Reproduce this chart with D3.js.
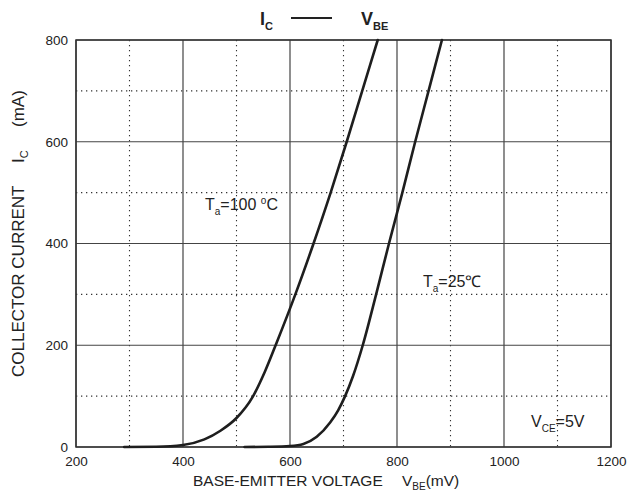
<!DOCTYPE html>
<html>
<head>
<meta charset="utf-8">
<script src="https://cdn.jsdelivr.net/npm/d3@7"></script>
<style>
  body { margin: 0; background: #fff; }
  text { font-family: "Liberation Sans", Arial, sans-serif; fill: #222; }
</style>
</head>
<body>
<div id="chart"></div>
<script>
// values
var xTicks = [200, 400, 600, 800, 1000, 1200];
var yTicks = [0, 200, 400, 600, 800];
var xMinor = [300, 500, 700, 900, 1100];
var yMinor = [100, 300, 500, 700];

var vbe100 = [290, 350, 400, 440, 470, 500, 530, 553, 575, 610, 644, 676, 706, 735, 764];
var ic100  = [0, 0.5, 4, 15, 32, 57, 98, 148, 205, 300, 400, 500, 600, 700, 800];
var vbe25  = [515, 560, 600, 625, 650, 675, 690, 703, 718, 736, 761, 785, 810, 834, 859, 884];
var ic25   = [0, 0.5, 2, 6, 20, 48, 72, 100, 140, 200, 300, 400, 500, 600, 700, 800];

var margin = {top: 40, right: 18, bottom: 48, left: 76},
    width = 629 - margin.left - margin.right,
    height = 495 - margin.top - margin.bottom;

var svg = d3.select("#chart")
    .append("svg")
    .attr("width", 629)
    .attr("height", 495);

var g = svg.append("g")
    .attr("transform", "translate(" + margin.left + "," + margin.top + ")");

var x = d3.scaleLinear().domain([200, 1200]).range([0, width]);
var y = d3.scaleLinear().domain([0, 800]).range([height, 0]);

// dotted minor grid
g.selectAll(".vminor").data(xMinor).enter().append("line")
    .attr("x1", d => x(d)).attr("x2", d => x(d))
    .attr("y1", 0).attr("y2", height)
    .attr("stroke", "#333").attr("stroke-width", 1.1)
    .attr("stroke-dasharray", "1.3,3.7");
g.selectAll(".hminor").data(yMinor).enter().append("line")
    .attr("x1", 0).attr("x2", width)
    .attr("y1", d => y(d)).attr("y2", d => y(d))
    .attr("stroke", "#333").attr("stroke-width", 1.1)
    .attr("stroke-dasharray", "1.3,3.7");

// solid major grid
g.selectAll(".vmajor").data(xTicks).enter().append("line")
    .attr("x1", d => x(d)).attr("x2", d => x(d))
    .attr("y1", 0).attr("y2", height)
    .attr("stroke", "#444").attr("stroke-width", 1.2);
g.selectAll(".hmajor").data(yTicks).enter().append("line")
    .attr("x1", 0).attr("x2", width)
    .attr("y1", d => y(d)).attr("y2", d => y(d))
    .attr("stroke", "#444").attr("stroke-width", 1.2);

g.append("rect")
    .attr("width", width).attr("height", height)
    .attr("fill", "none").attr("stroke", "#333").attr("stroke-width", 1.5);

// axes (labels only)
var xAxis = g.append("g")
    .attr("transform", "translate(0," + height + ")")
    .call(d3.axisBottom(x).tickValues(xTicks).tickFormat(d3.format("d")).tickSize(0).tickPadding(9));
var yAxis = g.append("g")
    .call(d3.axisLeft(y).tickValues(yTicks).tickFormat(d3.format("d")).tickSize(0).tickPadding(8));
[xAxis, yAxis].forEach(function(a) {
    a.select(".domain").remove();
    a.selectAll("text")
        .style("font-family", "Liberation Sans, Arial, sans-serif")
        .style("font-size", "13.5px").attr("fill", "#222");
});

// curves
var line = d3.line()
    .x(d => x(d[0])).y(d => y(d[1]))
    .curve(d3.curveMonotoneX);

[[vbe100, ic100], [vbe25, ic25]].forEach(function(s) {
    var pts = s[0].map((v, i) => [v, s[1][i]]);
    g.append("path")
        .datum(pts)
        .attr("d", line)
        .attr("fill", "none")
        .attr("stroke", "#1e1e1e")
        .attr("stroke-width", 2.6)
        .attr("stroke-linecap", "round");
});

// title
var title = svg.append("text").attr("x", 260).attr("y", 25)
    .style("font-size", "18px").style("font-weight", "bold");
title.append("tspan").text("I");
title.append("tspan").attr("dy", 5).style("font-size", "11px").text("C");
svg.append("line").attr("x1", 291).attr("x2", 332).attr("y1", 18).attr("y2", 18)
    .attr("stroke", "#222").attr("stroke-width", 2);
var title2 = svg.append("text").attr("x", 361).attr("y", 25)
    .style("font-size", "18px").style("font-weight", "bold");
title2.append("tspan").text("V");
title2.append("tspan").attr("dy", 5).style("font-size", "11px").text("BE");

// axis titles
var xl = svg.append("text").attr("x", 193).attr("y", 486).style("font-size", "15.5px");
xl.append("tspan").text("BASE-EMITTER VOLTAGE");
xl.append("tspan").attr("x", 402).text("V");
xl.append("tspan").attr("dy", 4).style("font-size", "10px").text("BE");
xl.append("tspan").attr("dy", -4).text("(mV)");

var yl = svg.append("text")
    .attr("transform", "translate(24,377) rotate(-90)")
    .style("font-size", "17px");
yl.append("tspan").text("COLLECTOR CURRENT");
yl.append("tspan").attr("x", 214).text("I");
yl.append("tspan").attr("dy", 4).style("font-size", "11px").text("C");
yl.append("tspan").attr("dy", -4).attr("x", 250).text("(mA)");

// annotations
function label(px, py, main, sub, rest) {
    var t = svg.append("text").attr("x", px).attr("y", py).style("font-size", "16px");
    t.append("tspan").text(main);
    t.append("tspan").attr("dy", 5).style("font-size", "10px").text(sub);
    t.append("tspan").attr("dy", -5).text(rest);
    return t;
}
var t100 = label(205, 210, "T", "a", "=100 ");
t100.append("tspan").attr("dy", -6).style("font-size", "10px").text("o");
t100.append("tspan").attr("dy", 6).text("C");
label(423, 287, "T", "a", "=25\u2103");
label(531, 427, "V", "CE", "=5V");
</script>
</body>
</html>
